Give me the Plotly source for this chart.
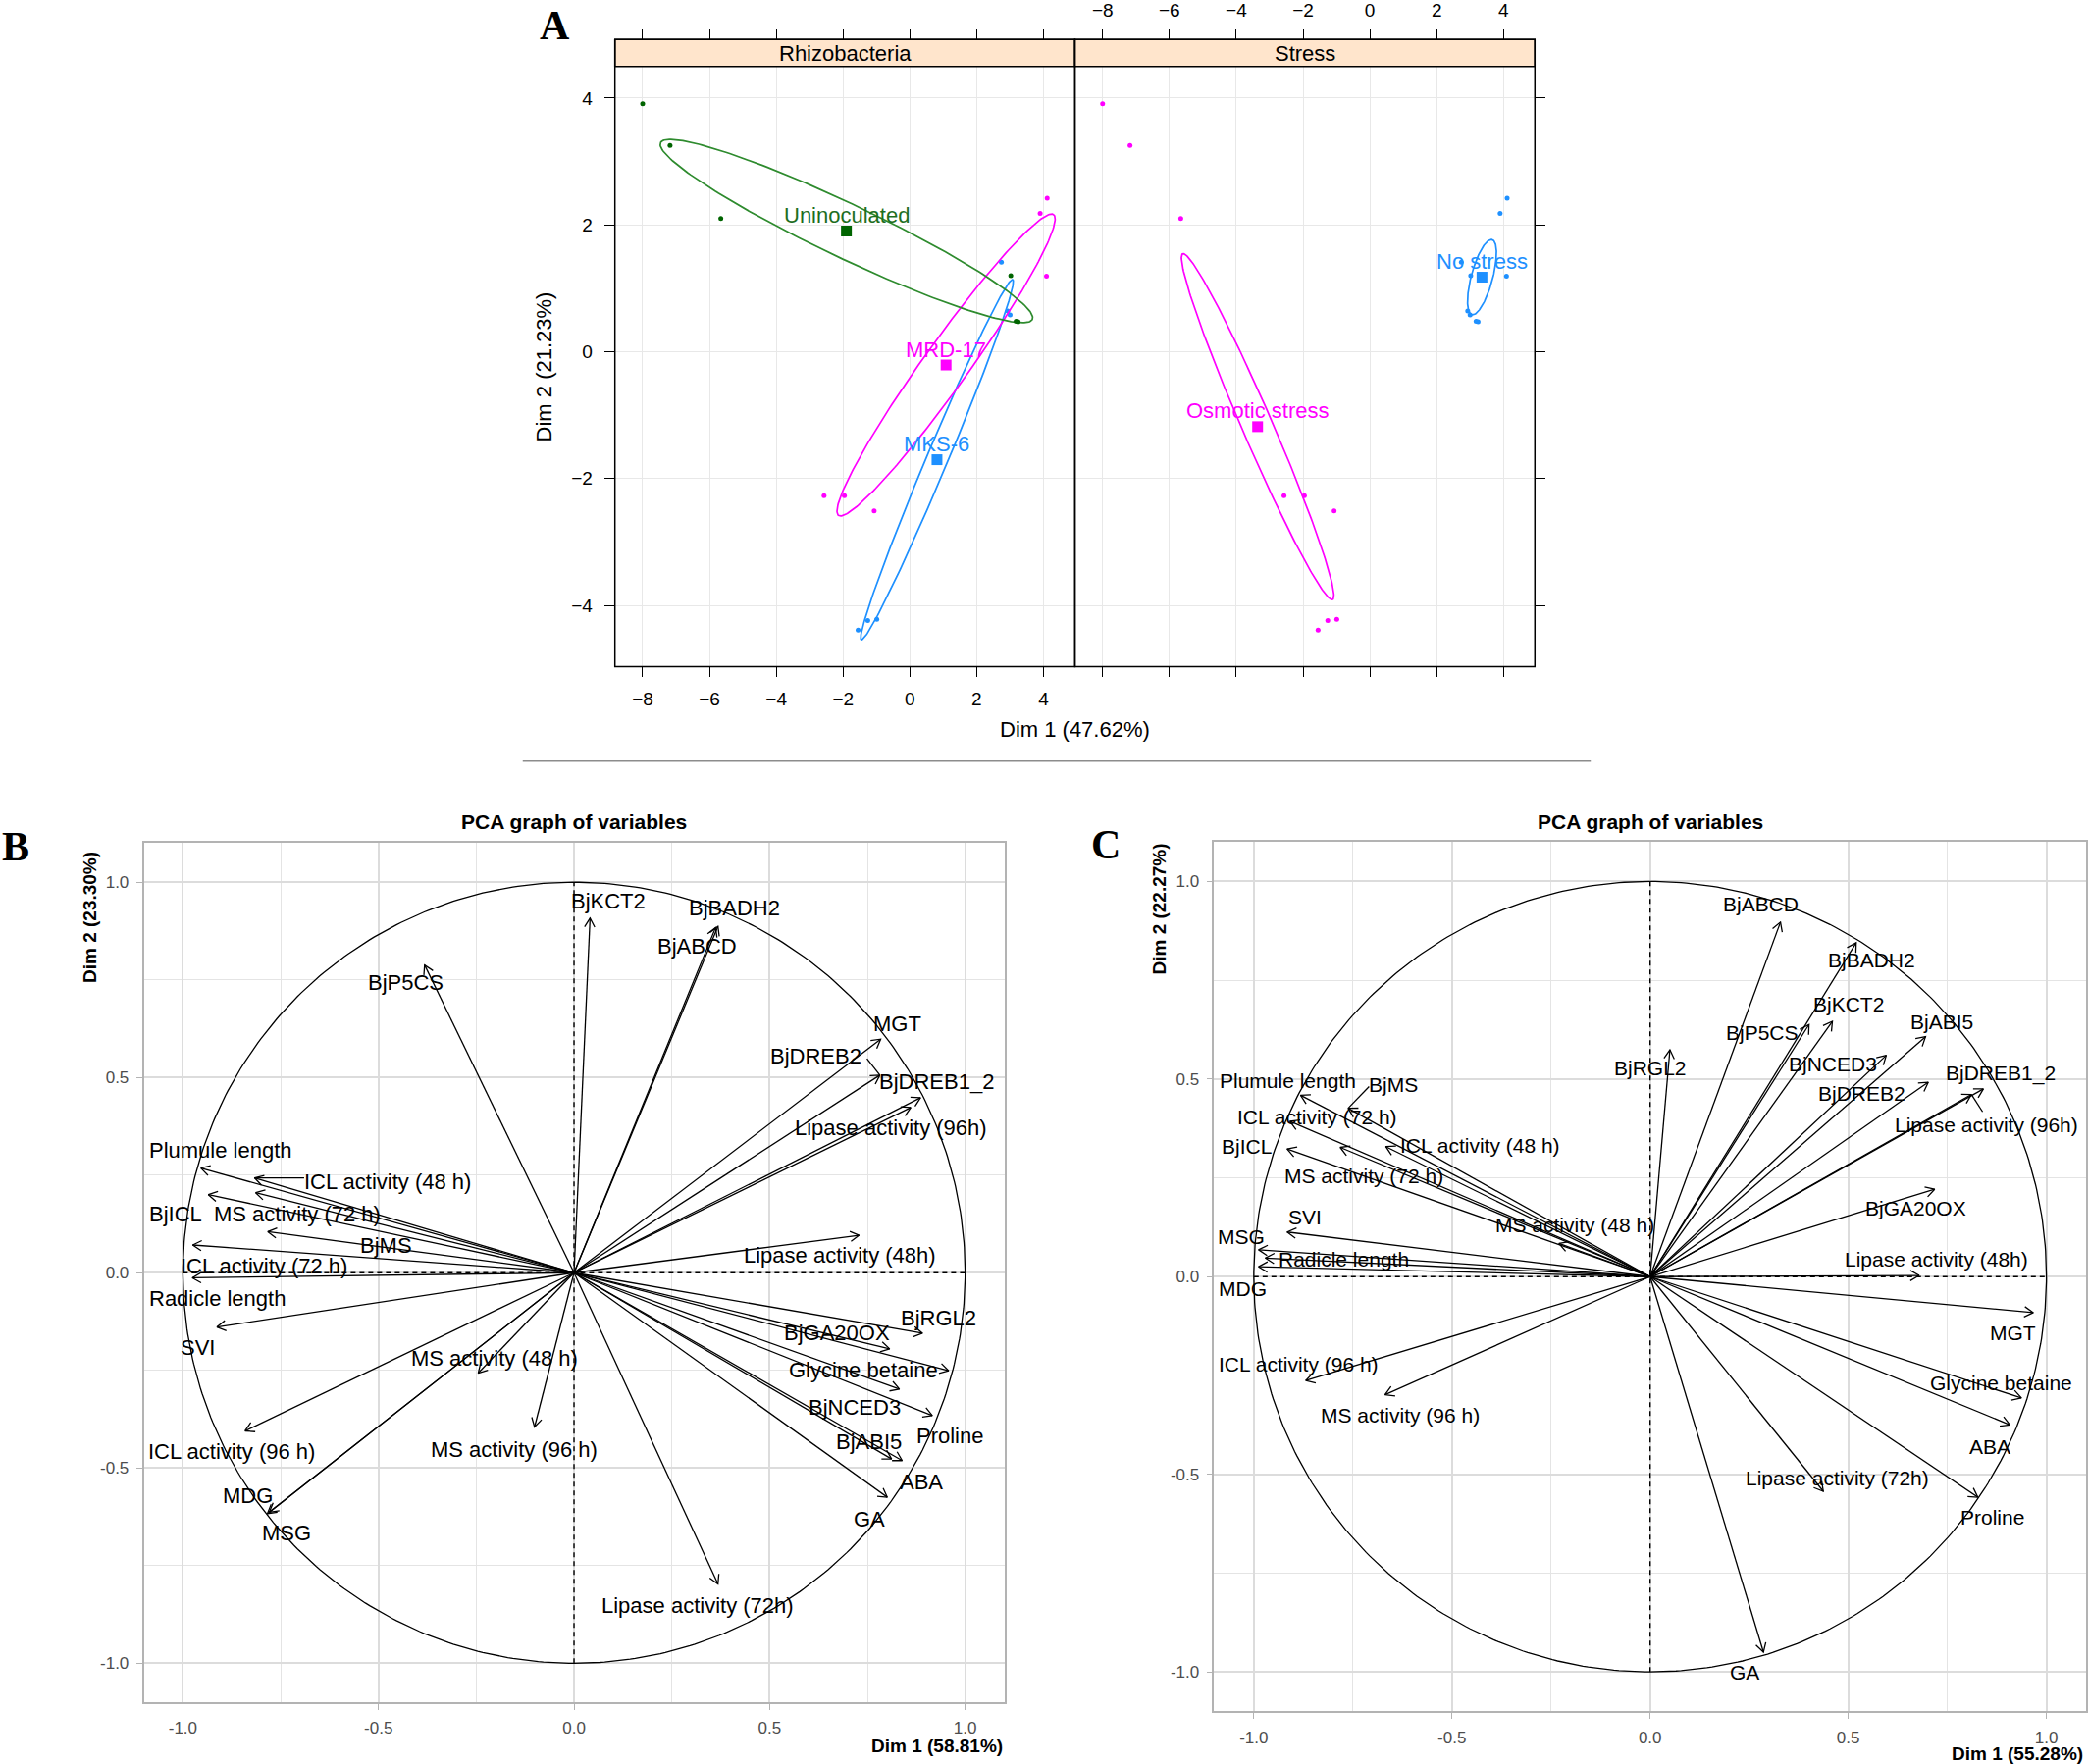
import numpy as np
import plotly.graph_objects as go

W, H = 2128, 1798
FONT = "Liberation Sans, Arial, sans-serif"
SERIF = "Liberation Serif, Times New Roman, serif"

# ---------------- Panel A data (individuals) ----------------
sample_dim1 = [-8.00, -7.18, -5.66, 3.02, 3.18, 3.24,
               -2.57, -1.96, -1.07, 3.90, 4.11, 4.09,
               -1.55, -1.26, -0.99, 2.74, 2.93, 3.00]
sample_dim2 = [3.91, 3.25, 2.10, 1.20, 0.48, 0.47,
               -2.27, -2.27, -2.51, 2.18, 2.42, 1.19,
               -4.39, -4.24, -4.22, 1.41, 0.64, 0.58]
sample_rhizo = ["Uninoculated"] * 6 + ["MRD-17"] * 6 + ["MKS-6"] * 6
sample_stress = (["Osmotic stress"] * 3 + ["No stress"] * 3) * 3
rhizo_levels = ["MKS-6", "MRD-17", "Uninoculated"]
stress_levels = ["No stress", "Osmotic stress"]
facet_names = ["Rhizobacteria", "Stress"]
a_xticks = [-8, -6, -4, -2, 0, 2, 4]
a_yticks = [-4, -2, 0, 2, 4]

# ---------------- Panels B / C data (variables) ----------------
var_names = ["BjKCT2", "BjBADH2", "BjABCD", "BjP5CS", "MGT", "BjDREB2", "BjDREB1_2",
             "Lipase activity (96h)", "Lipase activity (48h)", "Plumule length",
             "ICL activity (48 h)", "BjICL", "MS activity (72 h)", "BjMS",
             "ICL activity (72 h)", "Radicle length", "SVI", "MS activity (48 h)",
             "ICL activity (96 h)", "MS activity (96 h)", "MDG", "MSG", "BjRGL2",
             "BjGA20OX", "Glycine betaine", "BjNCED3", "BjABI5", "Proline", "ABA", "GA",
             "Lipase activity (72h)"]

b_dim1 = [0.041, 0.368, 0.362, -0.382, 0.784, 0.782, 0.886, 0.861, 0.729, -0.954,
          -0.817, -0.935, -0.814, -0.783, -0.975, -0.976, -0.913, -0.245, -0.841, -0.101,
          -0.779, -0.784, 0.891, 0.807, 0.958, 0.832, 0.812, 0.916, 0.839, 0.801, 0.368]
b_dim2 = [0.908, 0.887, 0.884, 0.788, 0.598, 0.506, 0.448, 0.423, 0.096, 0.268,
          0.243, 0.200, 0.205, 0.105, 0.071, -0.013, -0.139, -0.257, -0.405, -0.395,
          -0.613, -0.617, -0.155, -0.195, -0.251, -0.298, -0.477, -0.366, -0.481, -0.575, -0.797]
b_lab_x = [0.087, 0.409, 0.314, -0.430, 0.826, 0.619, 0.926, 0.810, 0.680, -0.904,
           -0.476, -1.019, -0.707, -0.481, -0.793, -0.912, -0.962, -0.204, -0.875, -0.152,
           -0.835, -0.736, 0.933, 0.671, 0.740, 0.718, 0.755, 0.961, 0.887, 0.755, 0.316]
b_lab_y = [0.952, 0.933, 0.835, 0.742, 0.638, 0.554, 0.490, 0.370, 0.044, 0.314,
           0.234, 0.151, 0.151, 0.069, 0.018, -0.065, -0.191, -0.220, -0.458, -0.454,
           -0.571, -0.667, -0.115, -0.155, -0.249, -0.345, -0.433, -0.418, -0.536, -0.630, -0.853]

c_dim1 = [0.460, 0.520, 0.329, 0.401, 0.967, 0.702, 0.841, 0.811, 0.679, -0.882,
          -0.667, -0.916, -0.782, -0.762, -0.909, -0.971, -0.916, -0.230, -0.869, -0.669,
          -0.988, -0.988, 0.050, 0.718, 0.937, 0.596, 0.695, 0.827, 0.908, 0.286, 0.437]
c_dim2 = [0.646, 0.845, 0.897, 0.638, -0.091, 0.492, 0.475, 0.461, 0.003, 0.459,
          0.329, 0.323, 0.327, 0.426, 0.393, 0.047, 0.113, 0.084, -0.263, -0.299,
          0.025, 0.068, 0.574, 0.221, -0.307, 0.560, 0.607, -0.558, -0.375, -0.950, -0.543]
c_lab_x = [0.502, 0.559, 0.279, 0.283, 0.916, 0.535, 0.885, 0.848, 0.722, -0.915,
           -0.428, -1.018, -0.721, -0.647, -0.840, -0.773, -0.871, -0.190, -0.888, -0.631,
           -1.028, -1.031, 0.000, 0.671, 0.885, 0.460, 0.736, 0.864, 0.858, 0.238, 0.473]
c_lab_y = [0.690, 0.802, 0.942, 0.618, -0.142, 0.463, 0.515, 0.383, 0.043, 0.496,
           0.331, 0.330, 0.255, 0.486, 0.405, 0.044, 0.152, 0.130, -0.221, -0.350,
           -0.031, 0.100, 0.527, 0.172, -0.268, 0.539, 0.645, -0.609, -0.429, -1.002, -0.510]

# label leader segments (start point -> arrow tip)
leader_panel = ["B", "B", "C", "C"]
leader_var = ["ICL activity (48 h)", "BjDREB2", "BjMS", "Lipase activity (96h)"]
leader_x0 = [-0.690, 0.749, -0.709, 0.839]
leader_y0 = [0.243, 0.548, 0.481, 0.417]

pca_ticks = [-1.0, -0.5, 0.0, 0.5, 1.0]
pca_ticktext = ["-1.0", "-0.5", "0.0", "0.5", "1.0"]
pca_minor = [-0.75, -0.25, 0.25, 0.75]

# ---------------- helpers ----------------
def fx(px):
    return px / W

def fy(py):
    return 1 - py / H

pt_col = {"MKS-6": "#1E90FF", "MRD-17": "#FF00FF", "Uninoculated": "#006400",
          "No stress": "#1E90FF", "Osmotic stress": "#FF00FF"}
ell_col = {"MKS-6": "#1E90FF", "MRD-17": "#FF00FF", "Uninoculated": "#2E8B2E",
           "No stress": "#1E90FF", "Osmotic stress": "#FF00FF"}
txt_col = {"MKS-6": "#1E90FF", "MRD-17": "#FF00FF", "Uninoculated": "#1E6E1E",
           "No stress": "#1E90FF", "Osmotic stress": "#FF00FF"}


def conf_ellipse(xs, ys, n=240):
    pts = np.column_stack([xs, ys])
    c = pts.mean(axis=0)
    S = np.cov(pts.T) / len(pts)
    vals, vecs = np.linalg.eigh(S)
    r = np.sqrt(5.991464547)  # chi2(2) 95%
    t = np.linspace(0, 2 * np.pi, n)
    circ = np.vstack([np.cos(t), np.sin(t)])
    e = c[:, None] + r * (vecs @ (np.sqrt(np.maximum(vals, 0))[:, None] * circ))
    return c, e[0], e[1]


fig = go.Figure()


def add_A_facet(xa, ya, groups, levels):
    for lev in levels:
        idx = [i for i, g in enumerate(groups) if g == lev]
        xs = [sample_dim1[i] for i in idx]
        ys = [sample_dim2[i] for i in idx]
        c, ex, ey = conf_ellipse(xs, ys)
        fig.add_trace(go.Scatter(x=ex, y=ey, mode="lines", xaxis=xa, yaxis=ya,
                                 line=dict(color=ell_col[lev], width=1.7),
                                 hoverinfo="skip", showlegend=False))
        fig.add_trace(go.Scatter(x=xs, y=ys, mode="markers", xaxis=xa, yaxis=ya,
                                 marker=dict(color=pt_col[lev], size=5),
                                 hoverinfo="skip", showlegend=False))
        fig.add_trace(go.Scatter(x=[c[0]], y=[c[1]], mode="markers", xaxis=xa, yaxis=ya,
                                 marker=dict(color=pt_col[lev], size=11, symbol="square"),
                                 hoverinfo="skip", showlegend=False))
        fig.add_annotation(x=c[0], y=c[1], xref=xa, yref=ya, text=lev, showarrow=False,
                           yshift=16, xanchor="center", yanchor="middle",
                           font=dict(family=FONT, size=22, color=txt_col[lev]))


add_A_facet("x", "y", sample_rhizo, rhizo_levels)
add_A_facet("x2", "y2", sample_stress, stress_levels)

# invisible anchors for the top tick axes
fig.add_trace(go.Scatter(x=[a_xticks[0]], y=[a_yticks[0]], xaxis="x3", yaxis="y", mode="markers",
                         marker=dict(opacity=0), hoverinfo="skip", showlegend=False))
fig.add_trace(go.Scatter(x=[a_xticks[0]], y=[a_yticks[0]], xaxis="x4", yaxis="y2", mode="markers",
                         marker=dict(opacity=0), hoverinfo="skip", showlegend=False))


def add_pca(xa, ya, dx, dy, lx, ly, panel, fsize, head):
    t = np.linspace(0, 2 * np.pi, 481)
    fig.add_trace(go.Scatter(x=np.cos(t), y=np.sin(t), mode="lines", xaxis=xa, yaxis=ya,
                             line=dict(color="black", width=1.3), hoverinfo="skip", showlegend=False))
    fig.add_trace(go.Scatter(x=[-1, 1, None, 0, 0], y=[0, 0, None, -1, 1], mode="lines",
                             xaxis=xa, yaxis=ya,
                             line=dict(color="black", width=1.4, dash="5px,4px"),
                             hoverinfo="skip", showlegend=False))
    axs, ays = [], []
    for x, y in zip(dx, dy):
        ang = np.arctan2(y, x)
        axs += [0, x, None]
        ays += [0, y, None]
        a1 = ang + np.pi + np.radians(30)
        a2 = ang + np.pi - np.radians(30)
        axs += [x + head * np.cos(a1), x, x + head * np.cos(a2), None]
        ays += [y + head * np.sin(a1), y, y + head * np.sin(a2), None]
    for p, v, x0, y0 in zip(leader_panel, leader_var, leader_x0, leader_y0):
        if p == panel:
            k = var_names.index(v)
            axs += [x0, dx[k], None]
            ays += [y0, dy[k], None]
    fig.add_trace(go.Scatter(x=axs, y=ays, mode="lines", xaxis=xa, yaxis=ya,
                             line=dict(color="black", width=1.3), hoverinfo="skip", showlegend=False))
    for name, x, y in zip(var_names, lx, ly):
        fig.add_annotation(x=x, y=y, xref=xa, yref=ya, text=name, showarrow=False,
                           xanchor="center", yanchor="middle",
                           font=dict(family=FONT, size=fsize, color="black"))


add_pca("x5", "y5", b_dim1, b_dim2, b_lab_x, b_lab_y, "B", 22, 0.026)
add_pca("x6", "y6", c_dim1, c_dim2, c_lab_x, c_lab_y, "C", 21, 0.026)

# ---------------- axes ----------------
A_top, A_bot, strip_top = 64.0, 677.0, 36.4
A_rng_x = [-8.83, 4.94]
A_rng_y = [-4.966, 4.495]
tickfontA = dict(family=FONT, size=19, color="black")

common_A_x = dict(range=A_rng_x, tickmode="array", tickvals=a_xticks, ticks="outside", ticklen=10,
                  tickwidth=1.4, tickcolor="black", showgrid=True, gridcolor="#E8E8E8", gridwidth=1.2,
                  zeroline=False, showline=False, tickfont=tickfontA, ticklabelstandoff=6)
common_A_y = dict(range=A_rng_y, tickmode="array", tickvals=a_yticks, ticks="outside", ticklen=10,
                  tickwidth=1.4, tickcolor="black", showgrid=True, gridcolor="#E8E8E8", gridwidth=1.2,
                  zeroline=False, showline=False, tickfont=tickfontA, ticklabelstandoff=8)

pca_x_common = dict(range=[-1.1, 1.1], tickmode="array", tickvals=pca_ticks, ticktext=pca_ticktext,
                    ticks="outside", ticklen=6, tickwidth=1.2, tickcolor="#B3B3B3",
                    showgrid=True, gridcolor="#DCDCDC", gridwidth=1.6,
                    minor=dict(tickmode="array", tickvals=pca_minor, showgrid=True,
                               gridcolor="#E4E4E4", gridwidth=1.2, ticks=""),
                    showline=True, mirror=True, linecolor="#B3B3B3", linewidth=1.6,
                    zeroline=False, tickfont=dict(family=FONT, size=17, color="#4D4D4D"),
                    ticklabelstandoff=4)

fig.update_layout(
    width=W, height=H, margin=dict(l=0, r=0, t=0, b=0),
    paper_bgcolor="white", plot_bgcolor="white", showlegend=False,
    xaxis=dict(domain=[fx(627), fx(1096)], anchor="y", side="bottom", **common_A_x),
    yaxis=dict(domain=[fy(A_bot), fy(A_top)], anchor="x", side="left", **common_A_y),
    xaxis2=dict(domain=[fx(1096), fx(1565)], anchor="y2", side="bottom", showticklabels=False,
                **common_A_x),
    yaxis2=dict(domain=[fy(A_bot), fy(A_top)], anchor="x2", side="right", showticklabels=False,
                **common_A_y),
    xaxis3=dict(overlaying="x", side="top", anchor="free", position=fy(strip_top),
                range=A_rng_x, tickmode="array", tickvals=a_xticks, ticks="outside", ticklen=10,
                tickwidth=1.4, tickcolor="black", showticklabels=False, showgrid=False,
                zeroline=False, showline=False),
    xaxis4=dict(overlaying="x2", side="top", anchor="free", position=fy(strip_top),
                range=A_rng_x, tickmode="array", tickvals=a_xticks, ticks="outside", ticklen=10,
                tickwidth=1.4, tickcolor="black", showticklabels=True, showgrid=False,
                zeroline=False, showline=False, tickfont=tickfontA, ticklabelstandoff=6),
    xaxis5=dict(domain=[fx(146.6), fx(1024)], anchor="y5", **pca_x_common),
    yaxis5=dict(domain=[fy(1735), fy(857.3)], anchor="x5", **pca_x_common),
    xaxis6=dict(domain=[fx(1238), fx(2127)], anchor="y6", **pca_x_common),
    yaxis6=dict(domain=[fy(1744.3), fy(856)], anchor="x6", **pca_x_common),
)

# ---------------- panel A frames & strips ----------------
s_frac = (A_top - strip_top) / (A_bot - A_top)
for xa, ya, name in [("x", "y", facet_names[0]), ("x2", "y2", facet_names[1])]:
    fig.add_shape(type="rect", xref=f"{xa} domain", yref=f"{ya} domain", x0=0, x1=1, y0=1,
                  y1=1 + s_frac, fillcolor="#FFE5CC", line=dict(color="black", width=1.5),
                  layer="above")
    fig.add_shape(type="rect", xref=f"{xa} domain", yref=f"{ya} domain", x0=0, x1=1, y0=0,
                  y1=1 + s_frac, line=dict(color="black", width=1.5), layer="above")
    fig.add_annotation(xref=f"{xa} domain", yref=f"{ya} domain", x=0.5, y=1 + s_frac / 2,
                       text=name, showarrow=False, xanchor="center", yanchor="middle",
                       font=dict(family=FONT, size=22, color="black"))

# separator line under panel A
fig.add_shape(type="line", xref="paper", yref="paper", x0=fx(533), x1=fx(1622),
              y0=fy(773.5), y1=fy(773.5), line=dict(color="#8C8C8C", width=1.5))

# ---------------- text annotations ----------------
def pann(x, y, text, size, bold=False, family=FONT, xanchor="center", yanchor="middle",
         angle=0, color="black"):
    fig.add_annotation(xref="paper", yref="paper", x=fx(x), y=fy(y),
                       text=f"<b>{text}</b>" if bold else text, showarrow=False,
                       xanchor=xanchor, yanchor=yanchor, textangle=angle,
                       font=dict(family=family, size=size, color=color))

pann(566, 22, "A", 42, bold=True, family=SERIF)
pann(16, 861, "B", 42, bold=True, family=SERIF)
pann(1128, 859, "C", 42, bold=True, family=SERIF)

pann(1096, 741.6, "Dim 1 (47.62%)", 22)
pann(555, 370.5, "Dim 2 (21.23%)", 22, angle=-90)

pann(585.5, 835, "PCA graph of variables", 21, bold=True)
pann(1682.5, 835, "PCA graph of variables", 21, bold=True)
pann(1024, 1779, "Dim 1 (58.81%)", 19, bold=True, xanchor="right")
pann(2126, 1787, "Dim 1 (55.28%)", 19, bold=True, xanchor="right")
pann(91, 864, "Dim 2 (23.30%)", 19, bold=True, yanchor="top", angle=-90)
pann(1182, 855, "Dim 2 (22.27%)", 19, bold=True, yanchor="top", angle=-90)

fig.write_html("out.html", config={"displayModeBar": False},
               post_script="document.body.style.margin='0px';")
